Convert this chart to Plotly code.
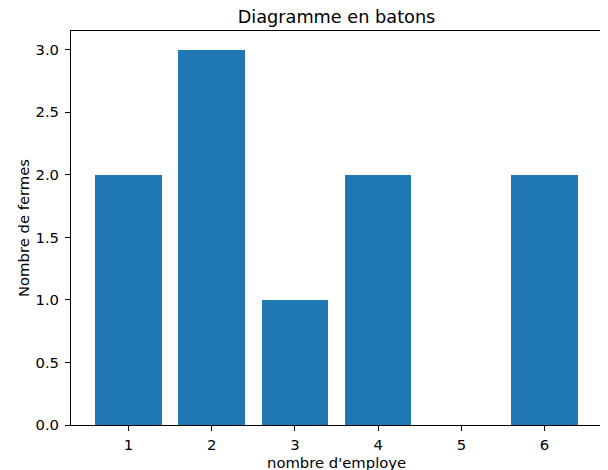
import plotly.graph_objects as go

employes = [1, 2, 3, 4, 5, 6]
fermes = [2, 3, 1, 2, 0, 2]
y_ticks = [0.0, 0.5, 1.0, 1.5, 2.0, 2.5, 3.0]
y_tick_labels = ["0.0", "0.5", "1.0", "1.5", "2.0", "2.5", "3.0"]

# the page body adds an 8px offset; compensate so the plot area lands at
# x 71..602, y 31..425 in the 608x470 window
OFF = 8
W, H = 608 - OFF, 470 - OFF
L, R, T, B = 71 - OFF, 6, 31 - OFF, 45
PW, PH = W - L - R, H - T - B
font = "DejaVu Sans, sans-serif"
FS = 14.8
TFS = 17.7

fig = go.Figure(go.Bar(
    x=employes, y=fermes, width=0.8,
    marker=dict(color="#1f77b4", line=dict(width=0)),
))

fig.update_layout(
    width=W, height=H,
    margin=dict(l=L, r=R, t=T, b=B, pad=0),
    paper_bgcolor="white", plot_bgcolor="white",
    font=dict(family=font, size=FS, color="black"),
    showlegend=False,
    title=dict(text="Diagramme en batons", x=(L + PW / 2) / W, xanchor="center",
               y=1 - (17 - OFF) / H, yanchor="middle", yref="container",
               font=dict(size=TFS, family=font, color="black")),
    bargap=0,
)

fig.update_xaxes(
    range=[0.31, 6.69], tickmode="array", tickvals=employes,
    ticktext=[str(v) for v in employes],
    ticks="outside", ticklen=5, tickwidth=1, tickcolor="black",
    showline=True, linecolor="black", linewidth=1, mirror=True,
    showgrid=False, zeroline=False, ticklabelstandoff=1,
    tickfont=dict(size=FS),
)
fig.update_yaxes(
    range=[0, 3.15], tickmode="array", tickvals=y_ticks, ticktext=y_tick_labels,
    ticks="outside", ticklen=5, tickwidth=1, tickcolor="black",
    showline=True, linecolor="black", linewidth=1, mirror=True,
    showgrid=False, zeroline=False, ticklabelstandoff=3,
    tickfont=dict(size=FS),
)

fig.add_annotation(text="nombre d'employe", xref="paper", yref="paper",
                   x=0.5, y=-(462 - 425) / PH, xanchor="center", yanchor="middle",
                   showarrow=False, font=dict(size=FS, family=font, color="black"))
fig.add_annotation(text="Nombre de fermes", xref="paper", yref="paper",
                   x=-(71 - 23) / PW, y=0.5, xanchor="center", yanchor="middle",
                   textangle=-90, showarrow=False, font=dict(size=FS, family=font, color="black"))

fig.write_html("out.html")
